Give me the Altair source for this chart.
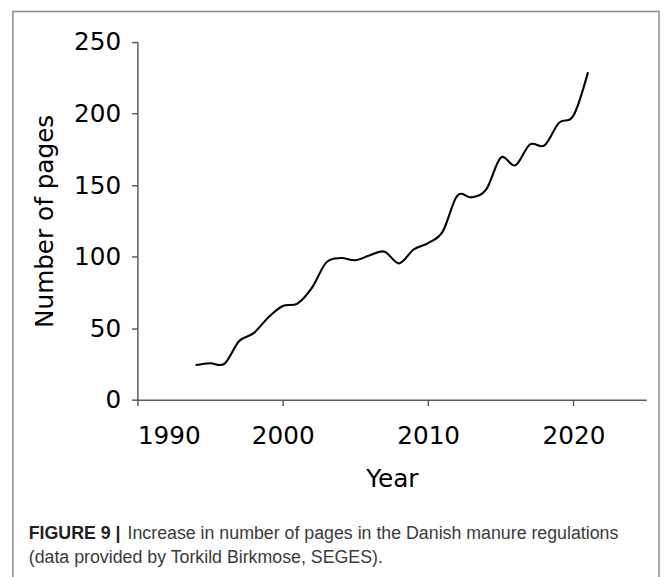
import altair as alt
import pandas as pd

# ---- data ----
years = [1994, 1995, 1996, 1997, 1998, 1999, 2000, 2001, 2002, 2003, 2004,
         2005, 2006, 2007, 2008, 2009, 2010, 2011, 2012, 2013, 2014, 2015,
         2016, 2017, 2018, 2019, 2020, 2021]
pages = [24.2, 25.5, 25.2, 41.0, 46.5, 57.5, 65.5, 67.2, 78.2, 96.0, 99.0,
         97.5, 101.0, 103.5, 95.3, 105.0, 109.5, 117.5, 142.5, 141.5, 147.0, 169.2,
         163.8, 178.4, 177.8, 193.5, 198.7, 229.0]
x_ticks = [1990, 2000, 2010, 2020]
y_ticks = [0, 50, 100, 150, 200, 250]
x_domain = [1990, 2025]
y_domain = [0, 250]

caption_bold = ["FIGURE 9 |"]
caption_line1 = ["Increase in number of pages in the Danish manure regulations"]
caption_line2 = ["(data provided by Torkild Birkmose, SEGES)."]

df = pd.DataFrame({"Year": years, "Pages": pages})
one = pd.DataFrame({"a": [0]})

line = alt.Chart(df).mark_line(color="black", strokeWidth=2.1, interpolate="cardinal").encode(
    x=alt.X("Year:Q",
            scale=alt.Scale(domain=x_domain, nice=False, zero=False),
            axis=alt.Axis(values=x_ticks, format="d", title="Year",
                          titleBaseline="alphabetic", titleY=88,
                          labelPadding=18)),
    y=alt.Y("Pages:Q",
            scale=alt.Scale(domain=y_domain, nice=False),
            axis=alt.Axis(values=y_ticks, title="Number of pages",
                          titleBaseline="alphabetic", titleX=-86, titleY=181,
                          labelPadding=11)),
)

border = alt.Chart(one).mark_rect(fillOpacity=0, stroke="#8c8c8c", strokeWidth=1.5).encode(
    x=alt.value(-126), x2=alt.value(528), y=alt.value(-31), y2=alt.value(600)
)

cap_b = alt.Chart(pd.DataFrame({"t": caption_bold})).mark_text(
    align="left", baseline="alphabetic", font="Liberation Sans", fontSize=18,
    fontWeight="bold", color="#231f20"
).encode(x=alt.value(-110), y=alt.value(503), text="t:N")

cap_1 = alt.Chart(pd.DataFrame({"t": caption_line1})).mark_text(
    align="left", baseline="alphabetic", font="Liberation Sans", fontSize=18,
    color="#3a3a3a"
).encode(x=alt.value(-10), y=alt.value(503), text="t:N")

cap_2 = alt.Chart(pd.DataFrame({"t": caption_line2})).mark_text(
    align="left", baseline="alphabetic", font="Liberation Sans", fontSize=18,
    color="#3a3a3a"
).encode(x=alt.value(-110), y=alt.value(527), text="t:N")

chart = alt.layer(border, line, cap_b, cap_1, cap_2).properties(
    width=515, height=362,
    padding={"left": 131, "top": 31, "right": 15, "bottom": 176},
    autosize=alt.AutoSizeParams(type="none"),
).configure_view(stroke=None).configure_axis(
    grid=False,
    domainColor="#5a5a5a", domainWidth=1.5,
    tickColor="#5a5a5a", tickWidth=1.5, tickSize=6,
    labelFont="DejaVu Sans", labelFontSize=25, labelColor="black",
    titleFont="DejaVu Sans", titleFontSize=25, titleFontWeight="normal",
    titleColor="black",
)

chart.save("out.html", embed_options={"renderer": "svg", "actions": False})
